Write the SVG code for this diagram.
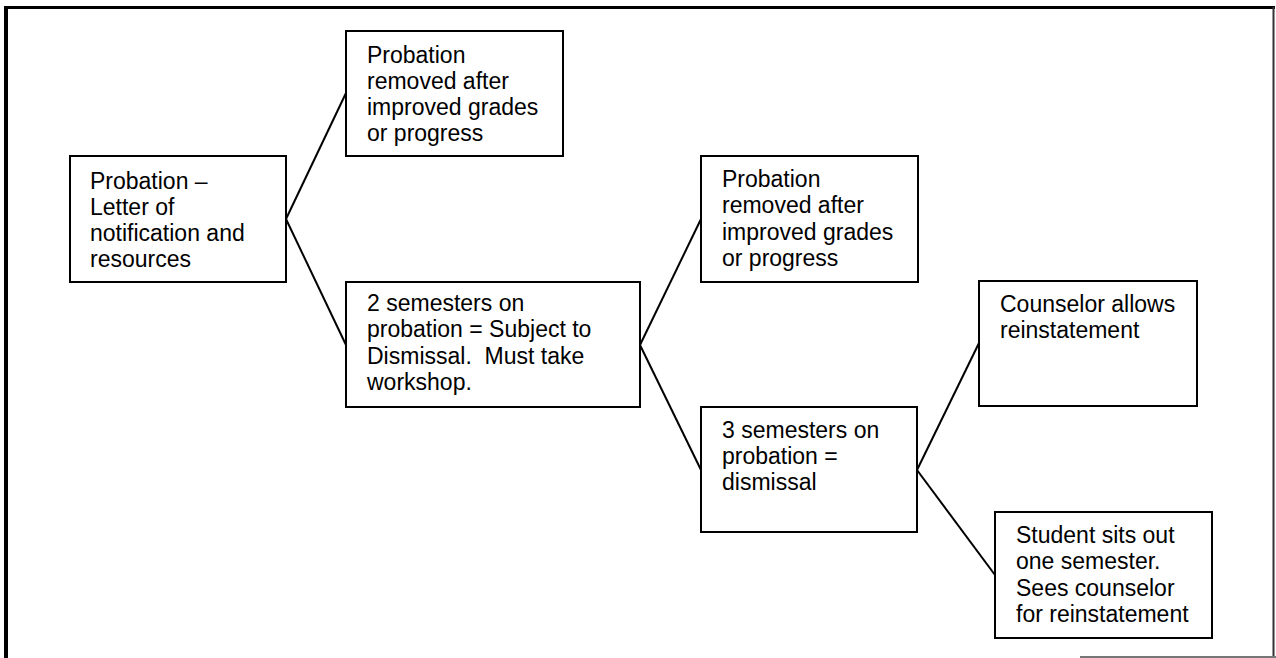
<svg xmlns="http://www.w3.org/2000/svg" width="1276" height="658" viewBox="0 0 1276 658">
<style>
.box{fill:#fff;stroke:#000;stroke-width:2}
.t{font-family:"Liberation Sans",Arial,sans-serif;font-size:23px;fill:#000}
.c{stroke:#000;stroke-width:2;fill:none}
</style>
<rect width="1276" height="658" fill="#fff"/>
<g id="frame">
<line x1="4" y1="7.5" x2="1275" y2="7.5" stroke="#000" stroke-width="3"/>
<line x1="6" y1="6" x2="6" y2="658" stroke="#000" stroke-width="4"/>
<line x1="1273.5" y1="7" x2="1273.5" y2="657" stroke="#333" stroke-width="2"/>
<line x1="1080" y1="657" x2="1276" y2="657" stroke="#777" stroke-width="2"/>
</g>
<g id="connectors">
<line class="c" x1="286" y1="219" x2="346" y2="93"/>
<line class="c" x1="286" y1="219" x2="346" y2="345"/>
<line class="c" x1="640" y1="345" x2="701" y2="219"/>
<line class="c" x1="640" y1="345" x2="701" y2="470"/>
<line class="c" x1="917" y1="470" x2="979" y2="343"/>
<line class="c" x1="917" y1="470" x2="995" y2="575"/>
</g>
<g id="n1">
<rect class="box" x="70" y="156" width="216" height="126"/>
<text class="t"><tspan x="90" y="189">Probation –</tspan><tspan x="90" y="215">Letter of</tspan><tspan x="90" y="241">notification and</tspan><tspan x="90" y="267">resources</tspan></text>
</g>
<g id="n2">
<rect class="box" x="346" y="31" width="217" height="125"/>
<text class="t"><tspan x="367" y="63">Probation</tspan><tspan x="367" y="89">removed after</tspan><tspan x="367" y="115">improved grades</tspan><tspan x="367" y="141">or progress</tspan></text>
</g>
<g id="n3">
<rect class="box" x="346" y="282" width="294" height="125"/>
<text class="t"><tspan x="367" y="311">2 semesters on</tspan><tspan x="367" y="337">probation = Subject to</tspan><tspan x="367" y="364" xml:space="preserve">Dismissal.  Must take</tspan><tspan x="367" y="390">workshop.</tspan></text>
</g>
<g id="n4">
<rect class="box" x="701" y="156" width="217" height="126"/>
<text class="t"><tspan x="722" y="187">Probation</tspan><tspan x="722" y="213">removed after</tspan><tspan x="722" y="240">improved grades</tspan><tspan x="722" y="266">or progress</tspan></text>
</g>
<g id="n5">
<rect class="box" x="701" y="407" width="216" height="125"/>
<text class="t"><tspan x="722" y="438">3 semesters on</tspan><tspan x="722" y="464">probation =</tspan><tspan x="722" y="490">dismissal</tspan></text>
</g>
<g id="n6">
<rect class="box" x="979" y="281" width="218" height="125"/>
<text class="t"><tspan x="1000" y="312">Counselor allows</tspan><tspan x="1000" y="338">reinstatement</tspan></text>
</g>
<g id="n7">
<rect class="box" x="995" y="512" width="217" height="126"/>
<text class="t"><tspan x="1016" y="543">Student sits out</tspan><tspan x="1016" y="569">one semester.</tspan><tspan x="1016" y="596">Sees counselor</tspan><tspan x="1016" y="622">for reinstatement</tspan></text>
</g>
</svg>
